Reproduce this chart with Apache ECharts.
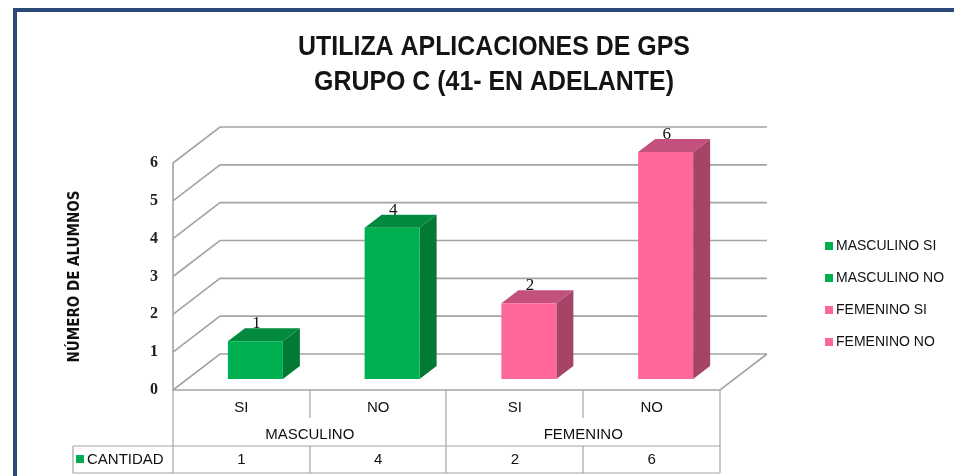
<!DOCTYPE html>
<html><head><meta charset="utf-8">
<script src="https://cdn.jsdelivr.net/npm/echarts@6/dist/echarts.min.js"></script>
<style>html,body{margin:0;padding:0;background:#fff}#c{width:954px;height:476px}</style>
</head><body><div id="c"></div>
<script>
const titleLines = ['UTILIZA APLICACIONES DE GPS', 'GRUPO C (41- EN ADELANTE)'];
const yAxisTitle = 'NÚMERO DE ALUMNOS';
const categories = ['SI', 'NO', 'SI', 'NO'];
const groups = ['MASCULINO', 'FEMENINO'];
const seriesNames = ['MASCULINO SI', 'MASCULINO NO', 'FEMENINO SI', 'FEMENINO NO'];
const values = [1, 4, 2, 6];
const yTicks = [0, 1, 2, 3, 4, 5, 6];
const tableRowLabel = 'CANTIDAD';

const GREEN = {front: '#00b050', top: '#028a3e', side: '#027a33'};
const PINK = {front: '#ff6699', top: '#c4517d', side: '#a64468'};
const palette = [GREEN, GREEN, PINK, PINK];
const GRIDC = '#a4a4a4';
const NARROW = "'DejaVu Sans Condensed','Liberation Sans',sans-serif";
const SANS = "'Liberation Sans','DejaVu Sans',sans-serif";
const SERIF = "'Liberation Serif','DejaVu Serif',serif";

const WDX = 47, WDY = -36;   // wall depth
const BOX = 14, BOY = -11;   // bar front offset
const BDX = 17, BDY = -13;   // bar depth
const HALF = 27.5;

function wallItem(params, api) {
  const cs = params.coordSys;
  const v = api.value(1);
  const y = api.coord([0, v])[1];
  const x0 = cs.x, x1 = cs.x + cs.width;
  const children = [{
    type: 'polyline',
    shape: {points: [[x0, y], [x0 + WDX, y + WDY], [x1 + WDX, y + WDY]]},
    style: {stroke: GRIDC, lineWidth: 1.6, fill: null}
  }];
  if (v === 0) {
    children.push({type: 'polyline', shape: {points: [[x0, y], [x1, y], [x1 + WDX, y + WDY]]},
      style: {stroke: GRIDC, lineWidth: 1.6, fill: null}});
  }
  return {type: 'group', children};
}

function barItem(params, api) {
  const i = api.value(0), v = api.value(1);
  const p = api.coord([i, v]);
  const b = api.coord([i, 0]);
  const cx = p[0] + BOX;
  const fx0 = cx - HALF, fx1 = cx + HALF;
  const ty = p[1] + BOY, by = b[1] + BOY;
  const c = palette[i];
  return {type: 'group', children: [
    {type: 'polygon', shape: {points: [[fx1, ty], [fx1 + BDX, ty + BDY], [fx1 + BDX, by + BDY], [fx1, by]]}, style: {fill: c.side}},
    {type: 'polygon', shape: {points: [[fx0, ty], [fx0 + BDX, ty + BDY], [fx1 + BDX, ty + BDY], [fx1, ty]]}, style: {fill: c.top}},
    {type: 'rect', shape: {x: fx0, y: ty, width: fx1 - fx0, height: by - ty}, style: {fill: c.front}},
    {type: 'text', x: cx + 1, y: ty + BDY + 4, style: {text: String(v), fontFamily: SERIF, fontSize: 17, fill: '#111', align: 'center', verticalAlign: 'bottom'}}
  ]};
}

function tableItem(params, api) {
  const cs = params.coordSys;
  const i = api.value(0);
  const x = api.coord([i, 0])[0];
  return {type: 'text', x: x, y: cs.y + cs.height + 70,
    style: {text: String(api.value(1)), fontFamily: SANS, fontSize: 15, fill: '#111', align: 'center', verticalAlign: 'middle'}};
}

const chart = echarts.init(document.getElementById('c'), null, {renderer: 'canvas'});

const L = (x1, y1, x2, y2, c, w) => ({type: 'line', shape: {x1, y1, x2, y2}, style: {stroke: c || GRIDC, lineWidth: w || 1.2}, silent: true});

const series = [{
  type: 'custom', name: 'walls', silent: true, z: 1,
  data: yTicks.map(v => [0, v]), renderItem: wallItem
}];
values.forEach((v, i) => {
  series.push({type: 'custom', name: seriesNames[i], z: 5, itemStyle: {color: palette[i].front},
    data: [[i, v]], renderItem: barItem});
});
series.push({type: 'custom', name: 'table', silent: true, z: 5,
  data: values.map((v, i) => [i, v]), renderItem: tableItem});

const titleGraphics = titleLines.map((t, k) => ({
  type: 'text', x: 494, y: 47 + k * 35, scaleX: 0.89, originX: 0, originY: 0, silent: true,
  style: {text: t, fontFamily: SANS, fontWeight: 'bold', fontSize: 28, fill: '#141414', align: 'center', verticalAlign: 'middle'}
}));

chart.setOption({
  animation: false,
  backgroundColor: '#ffffff',
  legend: {
    data: seriesNames, orient: 'vertical', left: 820, top: 234,
    icon: 'rect', itemWidth: 8, itemHeight: 8, itemGap: 18,
    textStyle: {fontFamily: SANS, fontSize: 14, color: '#111', padding: [0, 0, 0, -2]}
  },
  grid: {left: 173, right: 234, top: 163, bottom: 86},
  xAxis: [{
    type: 'category', data: categories,
    axisLine: {show: false}, axisTick: {show: false}, splitLine: {show: false},
    axisLabel: {margin: 10, fontFamily: SANS, fontSize: 15, color: '#111'}
  }, {
    type: 'category', data: groups, position: 'bottom',
    axisLine: {show: false}, axisTick: {show: false}, splitLine: {show: false},
    axisLabel: {margin: 37, fontFamily: SANS, fontSize: 15, color: '#111'}
  }],
  yAxis: {
    type: 'value', min: 0, max: 6, interval: 1,
    name: yAxisTitle, nameLocation: 'middle', nameGap: 90, nameRotate: 90,
    nameTextStyle: {fontFamily: NARROW, fontWeight: 'bold', fontSize: 15, color: '#111'},
    axisLine: {show: true, lineStyle: {color: GRIDC, width: 1.6}},
    axisTick: {show: false}, splitLine: {show: false},
    axisLabel: {margin: 15, fontFamily: SERIF, fontWeight: 'bold', fontSize: 16, color: '#222'}
  },
  series: series,
  graphic: titleGraphics.concat([
    {type: 'rect', shape: {x: 13, y: 8, width: 954, height: 4}, style: {fill: '#2b4a78'}, silent: true},
    {type: 'rect', shape: {x: 13, y: 8, width: 4, height: 476}, style: {fill: '#2b4a78'}, silent: true},
    L(173, 390, 173, 473), L(310, 390, 310, 418), L(310, 446, 310, 473),
    L(446, 390, 446, 473), L(583, 390, 583, 418), L(583, 446, 583, 473),
    L(720, 390, 720, 473), L(73, 446, 720, 446), L(73, 473, 720, 473), L(73, 446, 73, 473),
    {type: 'rect', shape: {x: 76, y: 455, width: 8, height: 8}, style: {fill: GREEN.front}, silent: true},
    {type: 'text', x: 87, y: 460, style: {text: tableRowLabel, fontFamily: SANS, fontSize: 15, fill: '#111', verticalAlign: 'middle'}, silent: true}
  ])
});
</script>
</body></html>
